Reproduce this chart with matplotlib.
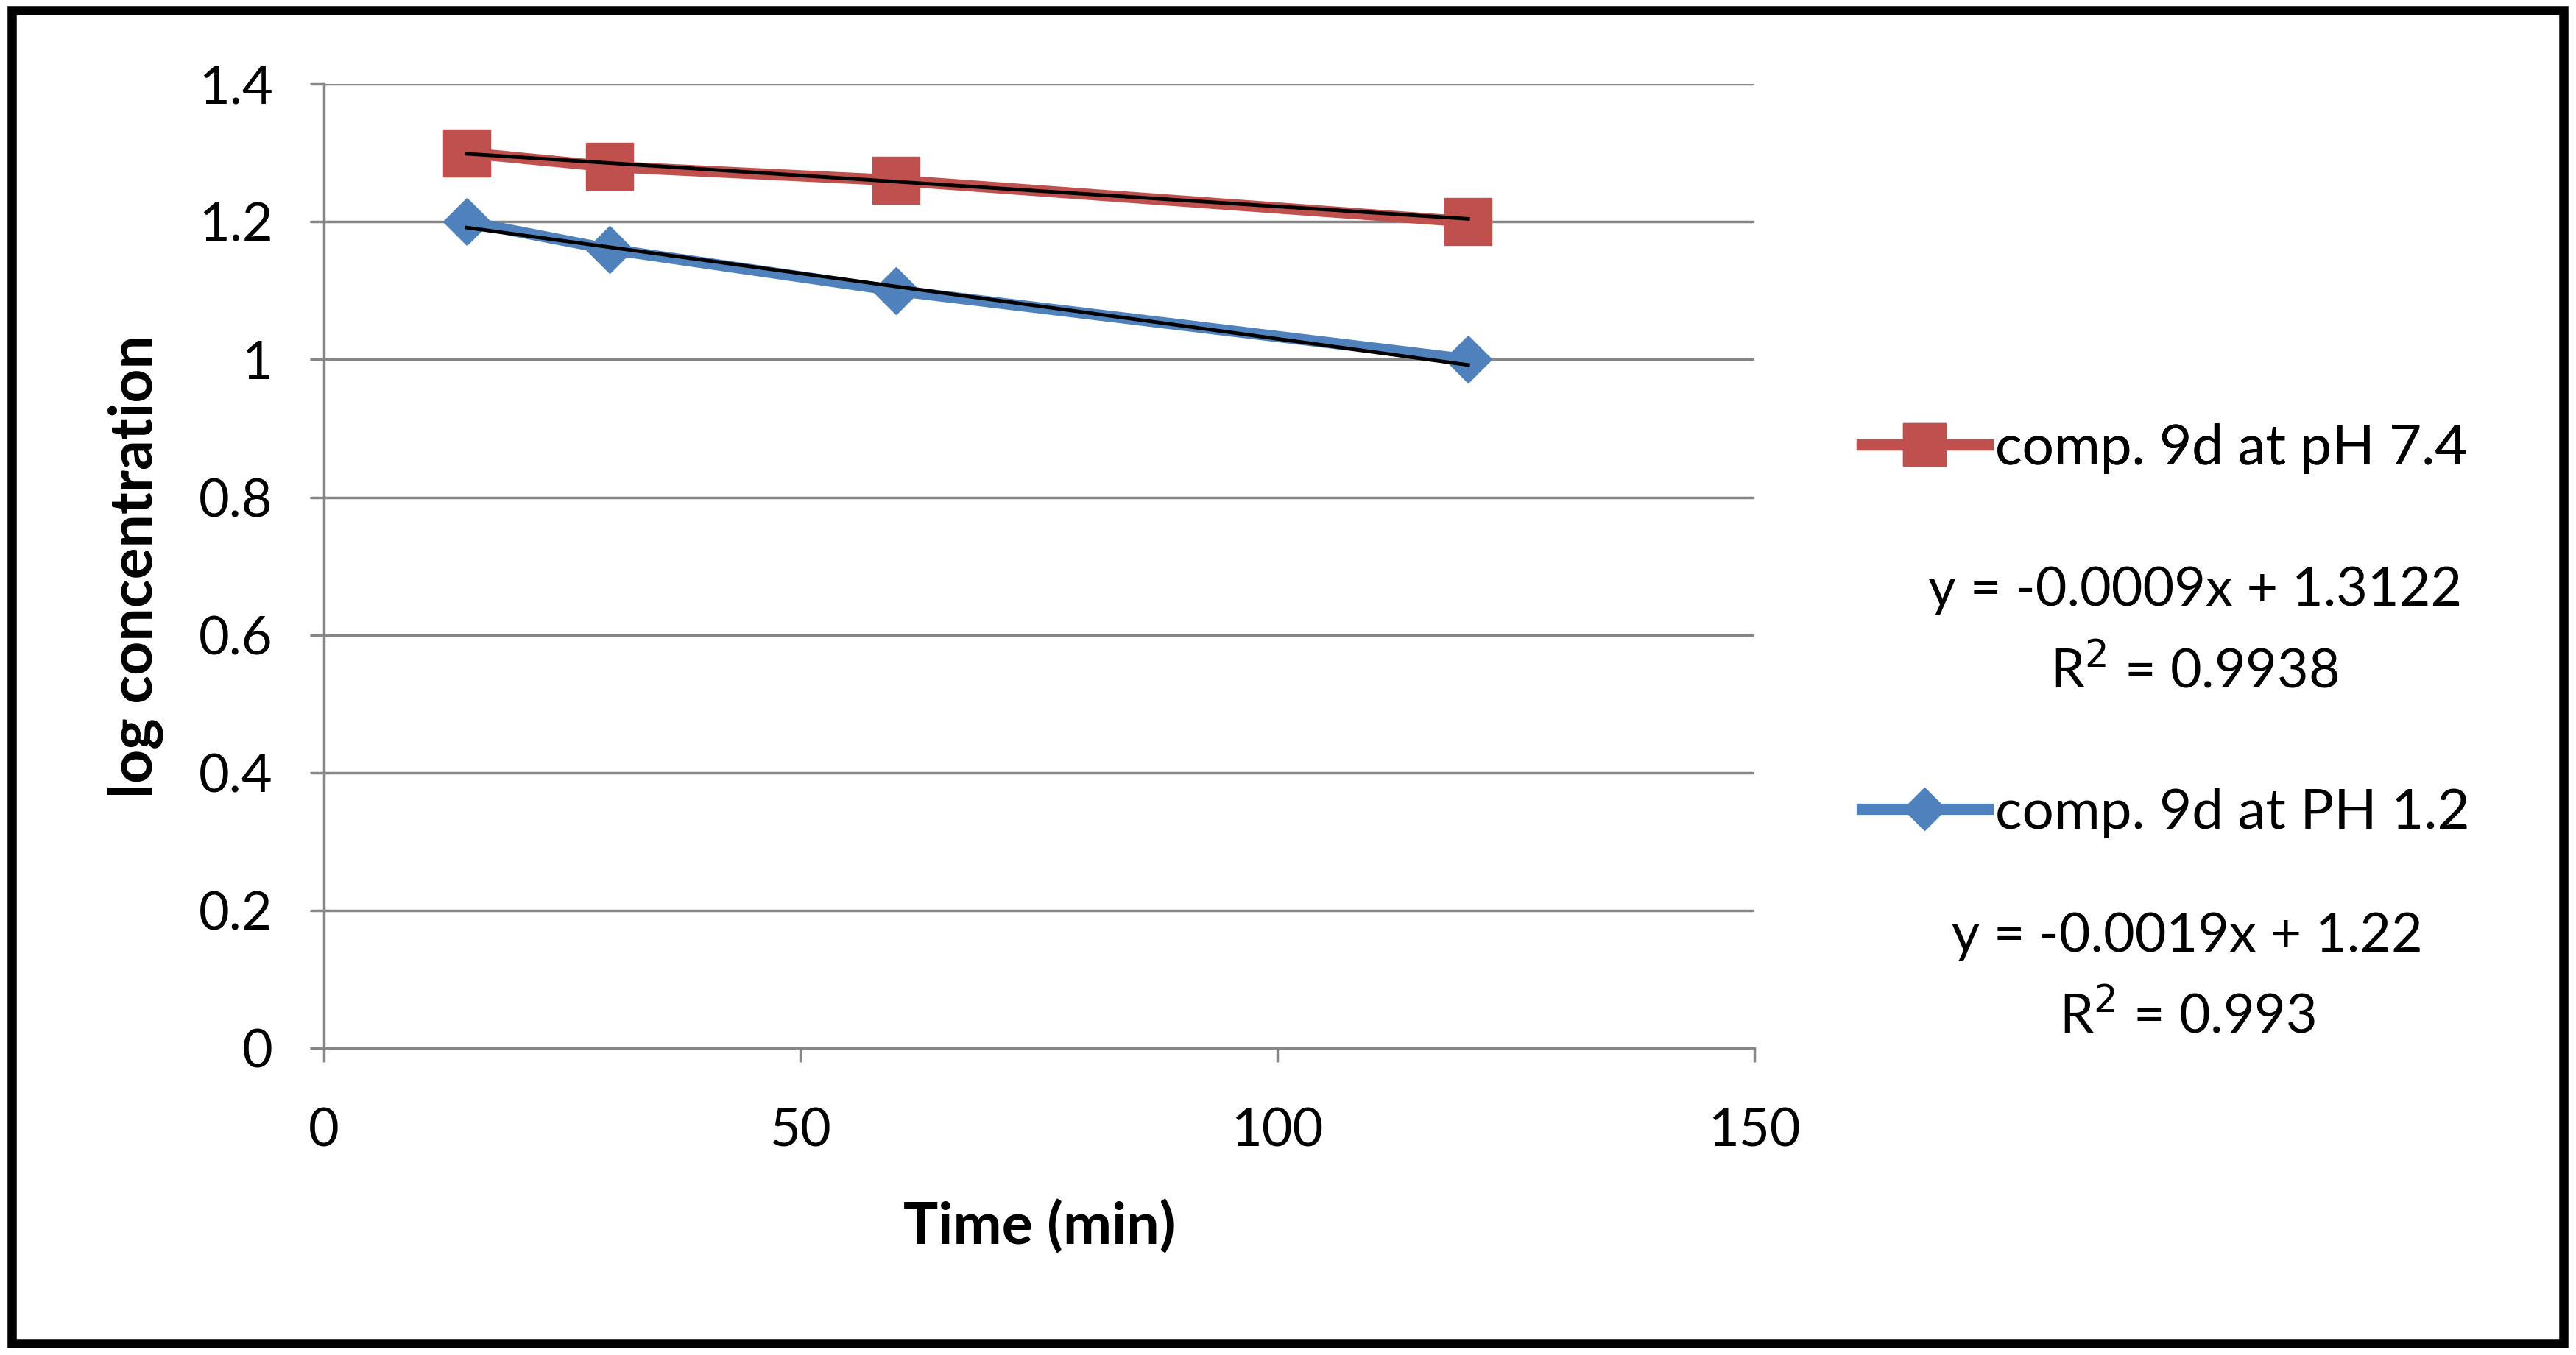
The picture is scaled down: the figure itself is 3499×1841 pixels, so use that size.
import numpy as np
import matplotlib
matplotlib.use("Agg")
import matplotlib.pyplot as plt
from matplotlib.lines import Line2D
from matplotlib.patches import Rectangle

# data
time_min = [15, 30, 60, 120]
log_ph74 = [1.30, 1.28, 1.26, 1.20]
log_ph12 = [1.20, 1.16, 1.10, 1.00]

# trendline coefficients as printed on the chart
fit_ph74 = (-0.0009, 1.3122)
fit_ph12 = (-0.0019, 1.22)
r2_ph74 = 0.9938
r2_ph12 = 0.993

label_ph74 = "comp. 9d at pH 7.4"
label_ph12 = "comp. 9d at PH 1.2"

x_ticks = [0, 50, 100, 150]
y_ticks = [0, 0.2, 0.4, 0.6, 0.8, 1.0, 1.2, 1.4]
y_tick_labels = ["0", "0.2", "0.4", "0.6", "0.8", "1", "1.2", "1.4"]

red = "#C0504D"
blue = "#4F81BD"
grey = "#868686"

plt.rcParams["font.family"] = ["Lato", "DejaVu Sans"]

fig = plt.figure(figsize=(34.99, 18.41), dpi=100)
ax = fig.add_axes([0.1257, 0.2265, 0.681 - 0.1257, 0.938 - 0.2265])

ax.plot(time_min, log_ph74, color=red, lw=11, marker="s", ms=46,
        solid_capstyle="round", zorder=3)
ax.plot(time_min, log_ph12, color=blue, lw=11, marker="D", ms=33,
        solid_capstyle="round", zorder=3)

# linear trendlines
xs = np.array([time_min[0], time_min[-1]])
ax.plot(xs, fit_ph74[0] * xs + fit_ph74[1], color="black", lw=3.5, zorder=4)
ax.plot(xs, fit_ph12[0] * xs + fit_ph12[1], color="black", lw=3.5, zorder=4)

ax.set_xlim(0, 150)
ax.set_ylim(0, 1.4)
ax.set_xticks(x_ticks)
ax.set_yticks(y_ticks)
ax.set_yticklabels(y_tick_labels)
ax.grid(axis="y", color=grey, lw=2.5)
ax.set_axisbelow(True)
for side in ["top", "right"]:
    ax.spines[side].set_visible(False)
for side in ["left", "bottom"]:
    ax.spines[side].set_color(grey)
    ax.spines[side].set_linewidth(2.5)
ax.tick_params(axis="x", length=14, width=2.5, color=grey, labelsize=52,
               pad=44, direction="out")
ax.tick_params(axis="y", length=14, width=2.5, color=grey, labelsize=52,
               pad=36, direction="out")

ax.set_xlabel("Time (min)", fontsize=57, fontweight="bold", labelpad=44)
ax.set_ylabel("log concentration", fontsize=58, fontweight="bold", labelpad=34)

# legend entries with the trendline equations beneath them
h74 = Line2D([], [], color=red, lw=11, marker="s", ms=42)
h12 = Line2D([], [], color=blue, lw=11, marker="D", ms=30)
leg1 = fig.legend([h74], [label_ph74], loc="center left",
                  bbox_to_anchor=(0.703, 0.669), frameon=False, fontsize=55,
                  handlelength=2.25, handletextpad=0.12)
leg2 = fig.legend([h12], [label_ph12], loc="center left",
                  bbox_to_anchor=(0.703, 0.400), frameon=False, fontsize=55,
                  handlelength=2.25, handletextpad=0.12)
fig.add_artist(leg1)

fig.text(0.852, 0.564, f"y = {fit_ph74[0]}x + {fit_ph74[1]}", ha="center",
         va="center", fontsize=53)
fig.text(0.852, 0.505, f"R$^2$ = {r2_ph74}", ha="center", va="center",
         fontsize=53)
fig.text(0.849, 0.309, f"y = {fit_ph12[0]}x + {fit_ph12[1]}", ha="center",
         va="center", fontsize=53)
fig.text(0.849, 0.250, f"R$^2$ = {r2_ph12}", ha="center", va="center",
         fontsize=53)

# thick black frame around the whole chart
fig.patches.append(Rectangle((0.0045, 0.0085), 0.9905, 0.984,
                             transform=fig.transFigure, fill=False,
                             edgecolor="black", lw=9))

fig.savefig("out.png", dpi=100)
